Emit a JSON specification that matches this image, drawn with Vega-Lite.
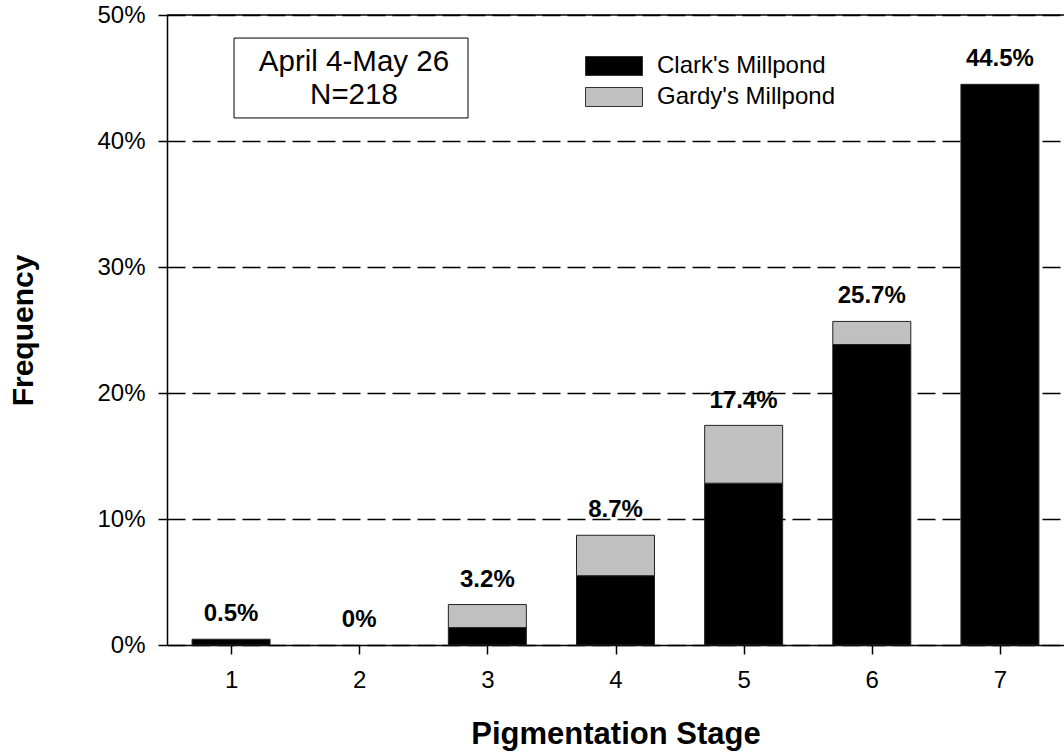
{
  "$schema": "https://vega.github.io/schema/vega-lite/v6.json",
  "width": 897,
  "height": 630,
  "autosize": {"type": "none"},
  "padding": {"left": 167, "top": 15, "right": 0, "bottom": 110},
  "background": "white",
  "config": {
    "font": "Liberation Sans",
    "view": {"stroke": null},
    "axis": {
      "domainColor": "black",
      "domainWidth": 1.5,
      "tickColor": "black",
      "tickWidth": 1.5,
      "tickSize": 9,
      "labelColor": "black",
      "labelFont": "Liberation Sans",
      "labelFontSize": 24,
      "titleFont": "Liberation Sans",
      "titleFontWeight": "bold",
      "titleColor": "black"
    },
    "legend": {"padding": 0}
  },
  "datasets": {
    "bars": [
      {"stage": 1, "site": "Clark's Millpond", "pct": 0.46},
      {"stage": 3, "site": "Clark's Millpond", "pct": 1.38},
      {"stage": 3, "site": "Gardy's Millpond", "pct": 1.83},
      {"stage": 4, "site": "Clark's Millpond", "pct": 5.5},
      {"stage": 4, "site": "Gardy's Millpond", "pct": 3.21},
      {"stage": 5, "site": "Clark's Millpond", "pct": 12.84},
      {"stage": 5, "site": "Gardy's Millpond", "pct": 4.59},
      {"stage": 6, "site": "Clark's Millpond", "pct": 23.85},
      {"stage": 6, "site": "Gardy's Millpond", "pct": 1.83},
      {"stage": 7, "site": "Clark's Millpond", "pct": 44.5}
    ],
    "totals": [
      {"stage": 1, "total": 0.5, "label": "0.5%"},
      {"stage": 2, "total": 0, "label": "0%"},
      {"stage": 3, "total": 3.2, "label": "3.2%"},
      {"stage": 4, "total": 8.7, "label": "8.7%"},
      {"stage": 5, "total": 17.4, "label": "17.4%"},
      {"stage": 6, "total": 25.7, "label": "25.7%"},
      {"stage": 7, "total": 44.5, "label": "44.5%"}
    ],
    "frame": [{"top": 50}]
  },
  "layer": [
    {
      "data": {"name": "bars"},
      "mark": {"type": "bar", "size": 78, "stroke": "#222222", "strokeWidth": 1},
      "encoding": {
        "x": {
          "field": "stage",
          "type": "quantitative",
          "scale": {"domain": [0.5, 7.5], "nice": false, "zero": false, "padding": 0},
          "axis": {
            "title": "Pigmentation Stage",
            "titleFontSize": 31,
            "values": [1, 2, 3, 4, 5, 6, 7],
            "format": "d",
            "grid": false,
            "labelPadding": 14,
            "titlePadding": 27
          }
        },
        "y": {
          "field": "pct",
          "type": "quantitative",
          "stack": "zero",
          "scale": {"domain": [0, 50], "nice": false},
          "axis": {
            "title": "Frequency",
            "titleFontSize": 30,
            "values": [0, 10, 20, 30, 40, 50],
            "labelExpr": "datum.value + '%'",
            "grid": true,
            "gridColor": "black",
            "gridDash": [18, 7],
            "gridWidth": 1.5,
            "gridOpacity": 1,
            "labelPadding": 13,
            "titlePadding": 58
          }
        },
        "order": {"field": "site", "sort": "ascending"},
        "color": {
          "field": "site",
          "type": "nominal",
          "scale": {"domain": ["Clark's Millpond", "Gardy's Millpond"], "range": ["#000000", "#c0c0c0"]},
          "legend": {
            "title": null,
            "orient": "none",
            "legendX": 435,
            "legendY": 39,
            "symbolType": "M-3,-1H3V1H-3Z",
            "symbolSize": 361,
            "symbolStrokeColor": "#333333",
            "symbolStrokeWidth": 1,
            "symbolOpacity": 1,
            "labelFontSize": 24,
            "labelColor": "black",
            "labelLimit": 0,
            "labelOffset": 31,
            "rowPadding": 7
          }
        }
      }
    },
    {
      "data": {"name": "totals"},
      "mark": {"type": "text", "fontSize": 24, "fontWeight": "bold", "baseline": "alphabetic", "dy": -18, "color": "black"},
      "encoding": {
        "x": {"field": "stage", "type": "quantitative"},
        "y": {"field": "total", "type": "quantitative"},
        "text": {"field": "label"}
      }
    },
    {
      "data": {"name": "frame"},
      "mark": {"type": "rule", "color": "black", "strokeWidth": 1.5},
      "encoding": {"y": {"field": "top", "type": "quantitative"}}
    },
    {
      "data": {"name": "frame"},
      "mark": {"type": "rect", "fill": "white", "stroke": "black", "strokeWidth": 1},
      "encoding": {
        "x": {"datum": 1.023},
        "x2": {"datum": 2.849},
        "y": {"datum": 48.17},
        "y2": {"datum": 41.83}
      }
    },
    {
      "data": {"name": "frame"},
      "mark": {"type": "text", "text": ["April 4-May 26", "N=218"], "fontSize": 29.5, "lineHeight": 33, "baseline": "middle", "align": "center", "color": "black"},
      "encoding": {
        "x": {"datum": 1.959},
        "y": {"datum": 46.27}
      }
    }
  ]
}
